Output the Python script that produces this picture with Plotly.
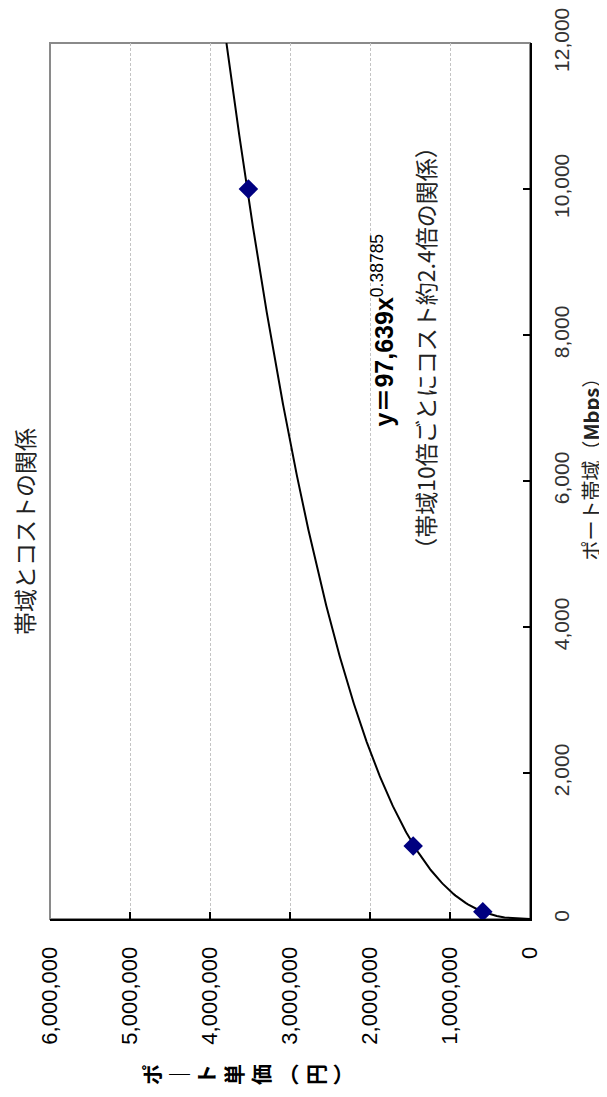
import numpy as np
import plotly.graph_objects as go

# ---- data ----
bandwidth_mbps = [100, 1000, 10000]          # ポート帯域 (Mbps)
port_price_yen = [590000, 1460000, 3520000]  # ポート単価 (円)
price_ticks = [0, 1000000, 2000000, 3000000, 4000000, 5000000, 6000000]
bw_ticks = [0, 2000, 4000, 6000, 8000, 10000, 12000]

title_text = "帯域とコストの関係"
eq_text = "<b>y＝97,639x</b><sup>0.38785</sup>"
note_text = "（帯域10倍ごとにコスト約2.4倍の関係）"
x_title = "ポート帯域（<b>Mbps</b>）"
y_title_chars = ["ポ", "｜", "ト", "単", "価", "︵", "円", "︶"]

# power trendline fitted (log-log least squares) to the points, as in the source chart
b, ln_a = np.polyfit(np.log(bandwidth_mbps), np.log(port_price_yen), 1)
trend_bw = np.linspace(0, 12000, 600)
trend_price = np.exp(ln_a) * np.power(trend_bw, b)

fig = go.Figure()
fig.add_trace(go.Scatter(
    x=trend_price, y=trend_bw, mode="lines",
    line=dict(color="black", width=2), hoverinfo="skip", showlegend=False))
fig.add_trace(go.Scatter(
    x=port_price_yen, y=bandwidth_mbps, mode="markers",
    marker=dict(symbol="diamond", size=15, color="#000080"),
    showlegend=False))

fig.update_layout(
    width=599, height=1089,
    margin=dict(l=42, r=77, t=35, b=178),
    paper_bgcolor="white", plot_bgcolor="white",
    font=dict(family="Noto Sans CJK JP", color="black"),
    xaxis=dict(
        range=[6000000, 0], tickvals=price_ticks, tickformat=",",
        tickangle=-90, ticks="inside", ticklen=7, tickwidth=1.5, tickcolor="black",
        ticklabelstandoff=17, ticklabeloverflow="allow",
        tickfont=dict(family="Liberation Sans", size=22, color="black"),
        showline=True, linecolor="black", linewidth=2,
        showgrid=True, gridcolor="#c4c4c4", griddash="3px,2px", gridwidth=1,
        zeroline=False, automargin=False),
    yaxis=dict(
        range=[0, 12000], tickvals=bw_ticks, tickformat=",", side="right",
        tickangle=-90, ticks="inside", ticklen=7, tickwidth=1.5, tickcolor="black",
        ticklabelstandoff=12, ticklabeloverflow="allow",
        tickfont=dict(family="Liberation Sans", size=21, color="#333333"),
        showline=True, linecolor="black", linewidth=2,
        showgrid=False, zeroline=False, automargin=False),
    shapes=[dict(type="rect", xref="paper", yref="paper", x0=0, x1=1, y0=0, y1=1,
                 line=dict(color="#8a8a8a", width=2), layer="below")],
    annotations=[
        dict(text=title_text, xref="paper", yref="paper", x=-0.054, y=0.442,
             textangle=-90, showarrow=False, xanchor="center", yanchor="middle",
             font=dict(family="Noto Sans CJK JP", size=23, color="#222")),
        dict(text=eq_text, xref="paper", yref="paper", x=0.694, y=0.672,
             textangle=-90, showarrow=False, xanchor="center", yanchor="middle",
             font=dict(family="Liberation Sans, Noto Sans CJK JP", size=25, color="black")),
        dict(text=note_text, xref="paper", yref="paper", x=0.781, y=0.652,
             textangle=-90, showarrow=False, xanchor="center", yanchor="middle",
             font=dict(family="Noto Sans CJK JP", size=23, color="#222")),
        dict(text=x_title, xref="paper", yref="paper", x=1.127, y=0.52,
             textangle=-90, showarrow=False, xanchor="center", yanchor="middle",
             font=dict(family="Noto Sans CJK JP", size=20, color="#222")),
        dict(text="<br>".join("<b>" + c + "</b>" for c in y_title_chars),
             xref="paper", yref="paper",
             x=0.408, y=-0.177, textangle=-90, showarrow=False,
             xanchor="center", yanchor="middle",
             font=dict(family="Noto Sans CJK JP", size=21, color="black")),
    ],
)

fig.write_html("out.html")
